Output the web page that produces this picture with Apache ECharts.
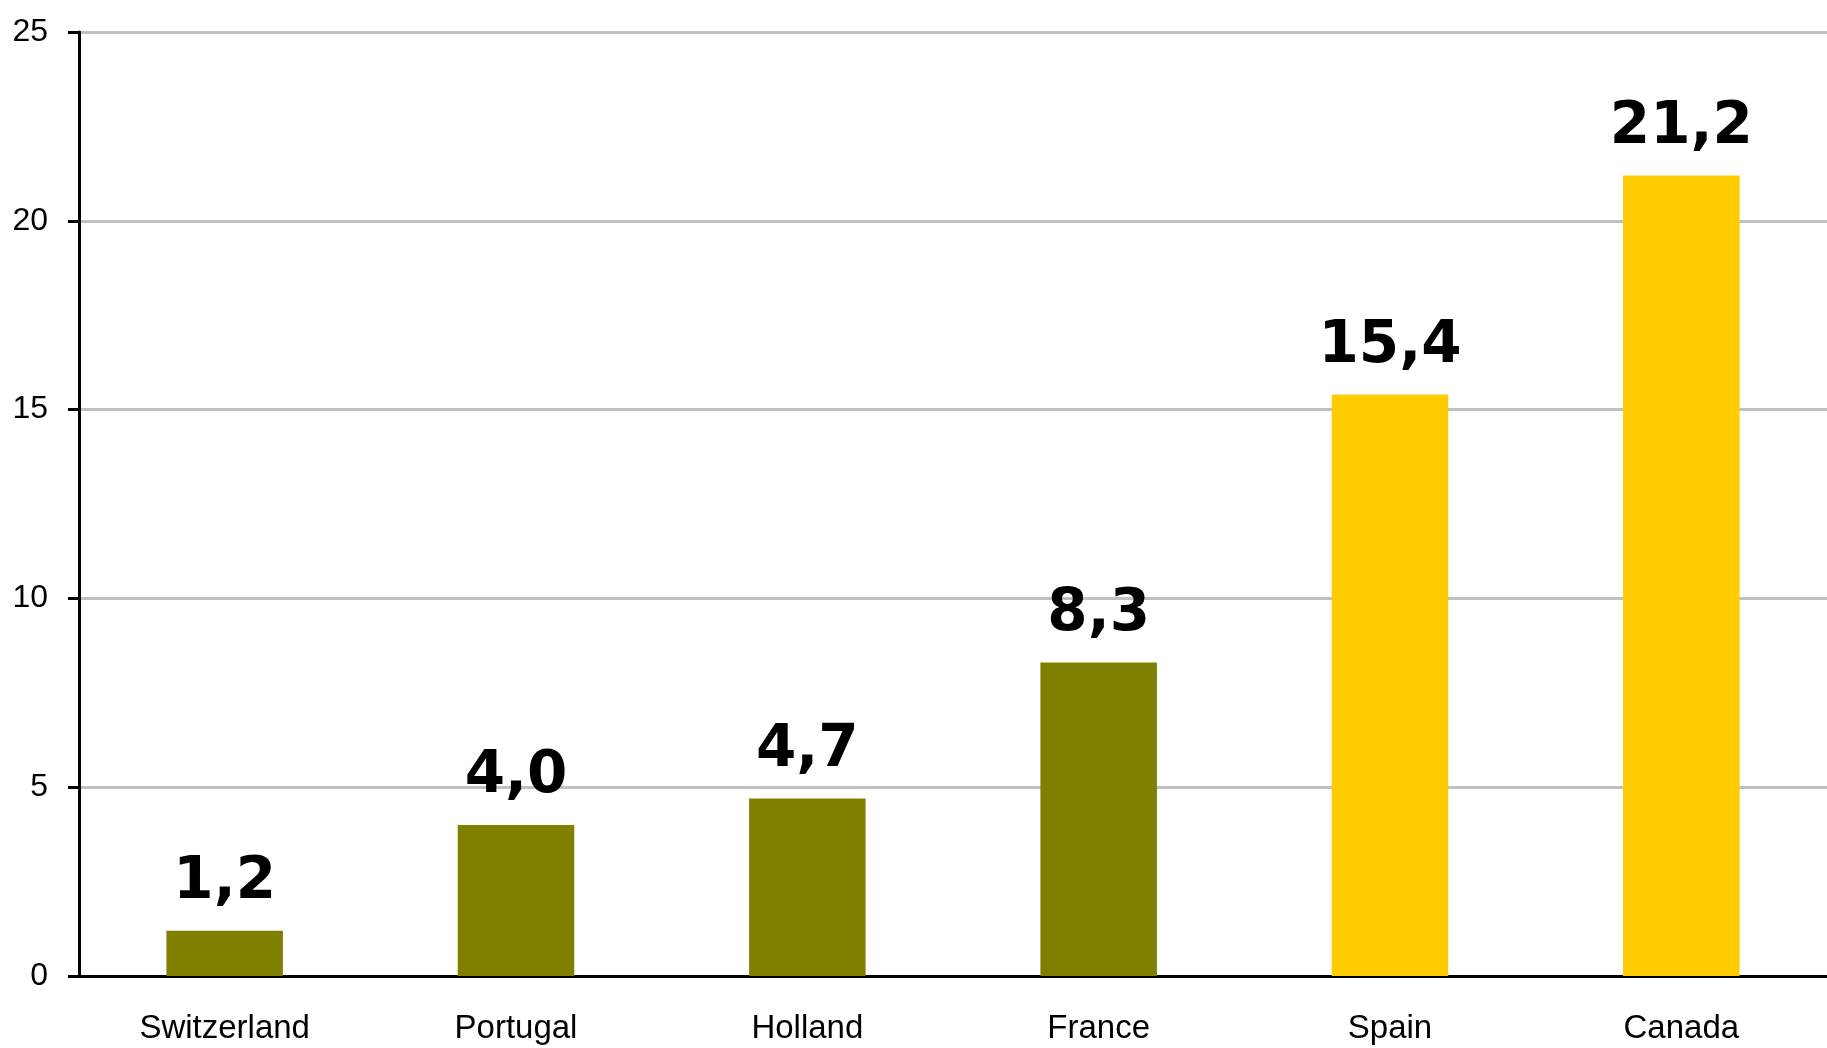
<!DOCTYPE html>
<html>

<head>
    <meta charset="utf-8">
    <script src="https://cdn.jsdelivr.net/npm/echarts@6/dist/echarts.min.js"></script>
    <style>
        html, body {
            margin: 0;
            padding: 0;
            background: #ffffff;
        }

        #chart {
            width: 1827px;
            height: 1048px;
        }
    </style>
</head>

<body>
    <div id="chart"></div>
    <script>
        // data
        var categories = ['Switzerland', 'Portugal', 'Holland', 'France', 'Spain', 'Canada'];
        var values = [1.2, 4.0, 4.7, 8.3, 15.4, 21.2];
        var yTicks = [0, 5, 10, 15, 20, 25];

        // colours: first four olive, last two yellow
        var olive = '#808000', yellow = '#FFCC00';
        var barColors = [olive, olive, olive, olive, yellow, yellow];

        var chart = echarts.init(document.getElementById('chart'));

        var option = {
            animation: false,
            backgroundColor: '#ffffff',
            grid: {
                left: 79,
                right: 0,
                top: 32,
                bottom: 72
            },
            xAxis: {
                type: 'category',
                data: categories,
                axisLine: { lineStyle: { color: '#000', width: 3 } },
                axisTick: { length: 13, lineStyle: { color: '#000', width: 3 } },
                axisLabel: {
                    color: '#000',
                    fontFamily: 'Liberation Sans',
                    fontSize: 33,
                    margin: 36
                }
            },
            yAxis: {
                type: 'value',
                min: yTicks[0],
                max: yTicks[yTicks.length - 1],
                interval: yTicks[1] - yTicks[0],
                axisLine: { show: true, lineStyle: { color: '#000', width: 3 } },
                axisTick: { show: true, length: 11, lineStyle: { color: '#000', width: 3 } },
                axisLabel: {
                    color: '#000',
                    fontFamily: 'Liberation Sans',
                    fontSize: 32,
                    margin: 31
                },
                splitLine: { lineStyle: { color: '#c0c0c0', width: 3 } }
            },
            series: [{
                type: 'bar',
                barWidth: '40%',
                data: values.map(function (v, i) {
                    return { value: v, itemStyle: { color: barColors[i] } };
                }),
                label: {
                    show: true,
                    position: 'top',
                    distance: 19,
                    color: '#000',
                    fontFamily: 'DejaVu Sans',
                    fontWeight: 'bold',
                    fontSize: 58,
                    formatter: function (p) {
                        return p.value.toFixed(1).replace('.', ',');
                    }
                }
            }]
        };

        chart.setOption(option);

        window.onresize = function () {
            chart.resize();
        };
    </script>
</body>

</html>
